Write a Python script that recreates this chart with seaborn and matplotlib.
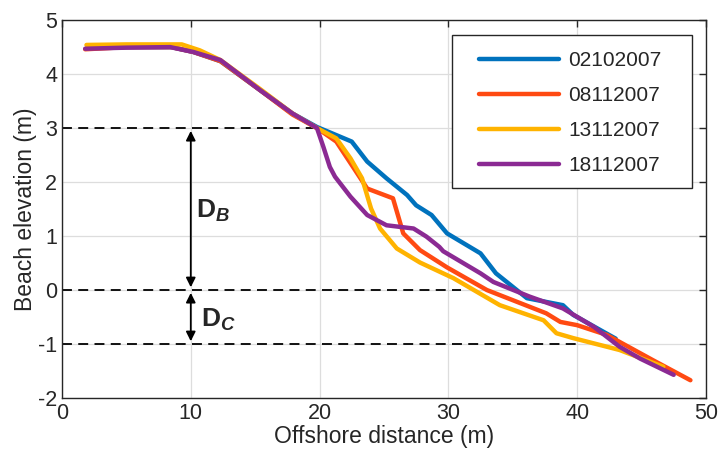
import pandas as pd
import matplotlib
matplotlib.use("Agg")
import matplotlib.pyplot as plt
from matplotlib.patches import Rectangle
import seaborn as sns

# --------------------------------------------
# Profile data
# --------------------------------------------
dates = ["02102007", "08112007", "13112007", "18112007"]

x_0210 = [2.0, 5.0, 8.5, 10.2, 12.3, 15.4, 17.9, 19.8, 21.3, 22.5, 23.7, 25.2, 26.8, 27.5,
          28.7, 29.9, 32.5, 33.7, 36.1, 38.9, 39.7, 43.0]
y_0210 = [4.48, 4.50, 4.50, 4.41, 4.24, 3.70, 3.27, 3.02, 2.87, 2.75, 2.38, 2.07, 1.76, 1.57,
          1.39, 1.05, 0.68, 0.31, -0.15, -0.28, -0.46, -0.90]

x_0811 = [1.8, 5.0, 8.5, 10.2, 12.3, 15.4, 17.9, 19.8, 21.3, 22.6, 23.7, 25.7, 26.5, 27.8,
          29.9, 33.0, 37.6, 38.7, 40.0, 42.3, 45.9, 48.8]
y_0811 = [4.46, 4.50, 4.50, 4.41, 4.24, 3.70, 3.25, 3.00, 2.75, 2.28, 1.88, 1.70, 1.05, 0.74,
          0.42, 0.00, -0.43, -0.59, -0.65, -0.83, -1.30, -1.67]

x_1311 = [1.9, 5.0, 9.3, 10.7, 12.3, 15.4, 17.9, 19.8, 21.3, 22.4, 23.3, 24.0, 24.7, 26.0,
          27.8, 30.4, 34.0, 37.4, 38.4, 39.7, 43.3, 46.7]
y_1311 = [4.54, 4.55, 4.55, 4.44, 4.26, 3.72, 3.27, 3.00, 2.81, 2.44, 2.07, 1.51, 1.14, 0.77,
          0.51, 0.22, -0.28, -0.56, -0.80, -0.89, -1.11, -1.42]

x_1811 = [1.8, 5.0, 8.4, 10.2, 12.3, 15.4, 17.9, 19.8, 20.3, 20.8, 21.2, 22.4, 23.7, 25.2,
          27.3, 28.3, 29.3, 29.6, 32.5, 33.5, 36.3, 38.9, 41.3, 43.3, 44.9, 47.5]
y_1811 = [4.47, 4.49, 4.50, 4.41, 4.26, 3.70, 3.27, 3.00, 2.65, 2.28, 2.10, 1.73, 1.39, 1.20,
          1.14, 0.99, 0.80, 0.72, 0.31, 0.15, -0.12, -0.34, -0.68, -1.05, -1.27, -1.57]

line_colors = ["#0072BD", "#FF4A12", "#FFB300", "#8B2A93"]

# reference levels (dashed) and where they stop
levels = [3, 0, -1]
level_ends = [20, 31, 40]

# --------------------------------------------
# Build long table
# --------------------------------------------
frames = []
for d, xs, ys in zip(dates, [x_0210, x_0811, x_1311, x_1811],
                     [y_0210, y_0811, y_1311, y_1811]):
    frames.append(pd.DataFrame({"dist": xs, "elev": ys, "date": d}))
df = pd.concat(frames, ignore_index=True)

# --------------------------------------------
# Plot
# --------------------------------------------
sns.set_style("white")
plt.rcParams["font.family"] = ["Liberation Sans", "DejaVu Sans"]
plt.rcParams["axes.unicode_minus"] = False
plt.rcParams["mathtext.fontset"] = "custom"
plt.rcParams["mathtext.rm"] = "Liberation Sans"
plt.rcParams["mathtext.bf"] = "Liberation Sans:bold"
plt.rcParams["mathtext.it"] = "Liberation Sans:italic:bold"

fig = plt.figure(figsize=(7.21, 4.57), dpi=100)
ax = fig.add_axes([0.086, 0.129, 0.893, 0.827])

for lv, end in zip(levels, level_ends):
    ax.plot([0, end], [lv, lv], ls=(0, (5.5, 3.5)), color="black", lw=1.3, zorder=2)

sns.lineplot(data=df, x="dist", y="elev", hue="date", hue_order=dates,
             palette=line_colors, sort=False, estimator=None, lw=3.2, ax=ax, zorder=3)

ax.annotate("", xy=(10, 3), xytext=(10, 0),
            arrowprops=dict(arrowstyle="<|-|>", color="black", lw=1.3,
                            mutation_scale=14, shrinkA=2, shrinkB=2))
ax.annotate("", xy=(10, 0), xytext=(10, -1),
            arrowprops=dict(arrowstyle="<|-|>", color="black", lw=1.3,
                            mutation_scale=14, shrinkA=2, shrinkB=2))
ax.text(10.4, 1.46, r"$\mathbf{D}_{\mathit{B}}$", fontsize=19, va="center", ha="left")
ax.text(10.8, -0.56, r"$\mathbf{D}_{\mathit{C}}$", fontsize=19, va="center", ha="left")

ax.set_xlim(0, 50)
ax.set_ylim(-2, 5)
ax.set_xticks([0, 10, 20, 30, 40, 50])
ax.set_yticks(range(-2, 6))
ax.grid(True, color="#dddddd", lw=0.9)
ax.set_axisbelow(True)
ax.tick_params(direction="in", top=True, right=True, labelsize=15.5, length=5,
               width=1, colors="#262626")
for sp in ax.spines.values():
    sp.set_color("#262626")
    sp.set_linewidth(1.0)
ax.set_xlabel("Offshore distance (m)", fontsize=16.5, labelpad=1)
ax.set_ylabel("Beach elevation (m)", fontsize=16.5, labelpad=1)

# legend box drawn separately so its padding matches the original
ax.add_patch(Rectangle((0.6056, 0.5556), 0.3724, 0.4044, transform=ax.transAxes,
                       facecolor="white", edgecolor="#262626", lw=1.0, zorder=5))
leg = ax.legend(loc="upper left", bbox_to_anchor=(0.6475, 0.918), borderaxespad=0,
                borderpad=0, fontsize=15, handlelength=3.85, handletextpad=0.45,
                labelspacing=0.77, frameon=False)
leg.set_zorder(6)
for ln in leg.get_lines():
    ln.set_linewidth(3.2)

fig.savefig("out.png", dpi=100)
